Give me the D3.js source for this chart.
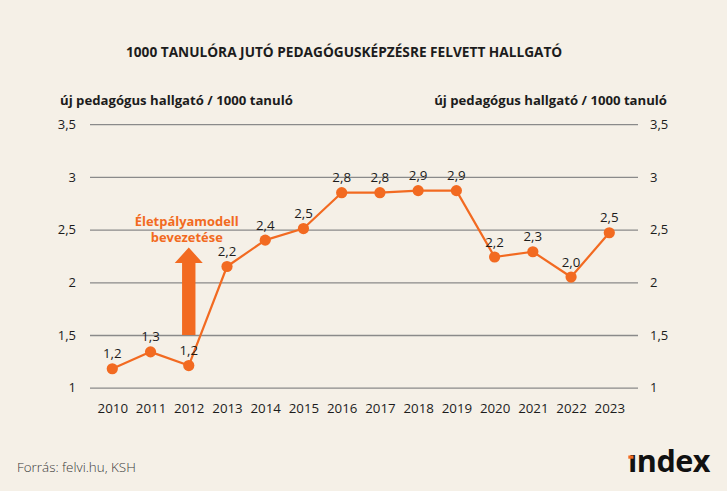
<!DOCTYPE html>
<html>
<head>
<meta charset="utf-8">
<script src="https://cdn.jsdelivr.net/npm/d3@7/dist/d3.min.js"></script>
<style>
  html, body { margin: 0; padding: 0; background: #f5f0e7; }
  svg { display: block; }
  text { font-family: "Open Sans", "Noto Sans", sans-serif; }
</style>
</head>
<body>
<svg id="chart" width="727" height="491"></svg>
<script>
// ---- data ----
const years = ["2010","2011","2012","2013","2014","2015","2016","2017","2018","2019","2020","2021","2022","2023"];
const values = [1.18, 1.34, 1.21, 2.15, 2.40, 2.51, 2.85, 2.85, 2.87, 2.87, 2.24, 2.29, 2.05, 2.47];
const valueLabels = ["1,2","1,3","1,2","2,2","2,4","2,5","2,8","2,8","2,9","2,9","2,2","2,3","2,0","2,5"];
const yTicks = [1, 1.5, 2, 2.5, 3, 3.5];
const yTickLabels = ["1","1,5","2","2,5","3","3,5"];
const title = "1000 TANULÓRA JUTÓ PEDAGÓGUSKÉPZÉSRE FELVETT HALLGATÓ";
const axisTitle = "új pedagógus hallgató / 1000 tanuló";
const annotation = ["Életpályamodell", "bevezetése"];
const annotationYear = "2012";
const annotationBase = 1.5;
const source = "Forrás: felvi.hu, KSH";

const orange = "#f26a21";
const ink = "#1c1c1c";

const svg = d3.select("#chart");
svg.append("rect").attr("width", 727).attr("height", 491).attr("fill", "#f5f0e7");

const gridLeft = 90, gridRight = 638;
const x = d3.scalePoint().domain(years).range([112.3, 609.3]);
const y = d3.scaleLinear().domain([1, 3.5]).range([387.7, 124.2]);

function fitWidth(sel, target) {
  const w = sel.node().getComputedTextLength();
  const fs = parseFloat(sel.attr("font-size"));
  sel.attr("font-size", fs * target / w);
}

// title
const t = svg.append("text").attr("x", 126).attr("y", 56.5)
  .attr("font-size", 13).attr("font-weight", 700).attr("fill", ink)
  .text(title);
fitWidth(t, 437);

// axis titles
const at1 = svg.append("text").attr("x", 60).attr("y", 105)
  .attr("font-size", 13.5).attr("font-weight", 700).attr("fill", ink).text(axisTitle);
fitWidth(at1, 233);
const at2 = svg.append("text").attr("x", 667).attr("y", 105).attr("text-anchor", "end")
  .attr("font-size", 13.5).attr("font-weight", 700).attr("fill", ink).text(axisTitle);
fitWidth(at2, 233);

// left axis with gridlines
const fmt = d => yTickLabels[yTicks.indexOf(d)];
const gl = svg.append("g").attr("transform", `translate(${gridLeft},0)`)
  .call(d3.axisLeft(y).tickValues(yTicks).tickFormat(fmt)
    .tickSize(-(gridRight - gridLeft)).tickPadding(14));
gl.select(".domain").remove();
gl.selectAll(".tick line").attr("stroke", "#8a8a8a").attr("stroke-width", 1.3);
gl.selectAll(".tick text").attr("font-size", 13).attr("fill", ink)
  .attr("font-family", "'Open Sans', sans-serif");

const gr = svg.append("g").attr("transform", `translate(${gridRight},0)`)
  .call(d3.axisRight(y).tickValues(yTicks).tickFormat(fmt).tickSize(0).tickPadding(12));
gr.select(".domain").remove();
gr.selectAll(".tick text").attr("font-size", 13).attr("fill", ink)
  .attr("font-family", "'Open Sans', sans-serif");

// x axis
const gx = svg.append("g").attr("transform", `translate(0,${y(1)})`)
  .call(d3.axisBottom(x).tickSize(0).tickPadding(15.5));
gx.select(".domain").remove();
gx.selectAll(".tick text").attr("font-size", 13.3).attr("font-weight", 500).attr("fill", ink)
  .attr("font-family", "'Open Sans', sans-serif");

// annotation arrow
const ax = x(annotationYear);
const baseY = y(annotationBase);
const headTop = 247.5, headBase = 263;
const arrow = d3.path();
arrow.moveTo(ax - 6.7, baseY);
arrow.lineTo(ax - 6.7, headBase);
arrow.lineTo(ax - 14, headBase);
arrow.lineTo(ax, headTop);
arrow.lineTo(ax + 14, headBase);
arrow.lineTo(ax + 6.7, headBase);
arrow.lineTo(ax + 6.7, baseY);
arrow.closePath();
svg.append("path").attr("d", arrow.toString()).attr("fill", orange);

const an1 = svg.append("text").attr("x", ax - 2).attr("y", 225.5).attr("text-anchor", "middle")
  .attr("font-family", "'DejaVu Sans', sans-serif")
  .attr("font-size", 11.5).attr("font-weight", 700).attr("fill", orange).text(annotation[0]);
fitWidth(an1, 104);
svg.append("text").attr("x", ax - 2).attr("y", 241.5).attr("text-anchor", "middle")
  .attr("font-family", "'DejaVu Sans', sans-serif")
  .attr("font-size", an1.attr("font-size")).attr("font-weight", 700).attr("fill", orange).text(annotation[1]);

// line + points
const line = d3.line().x((d, i) => x(years[i])).y(d => y(d));
svg.append("path").datum(values).attr("d", line)
  .attr("fill", "none").attr("stroke", orange).attr("stroke-width", 2.2).attr("stroke-linejoin", "round");

svg.selectAll("circle.pt").data(values).join("circle").attr("class", "pt")
  .attr("cx", (d, i) => x(years[i])).attr("cy", d => y(d)).attr("r", 5.6).attr("fill", orange);

svg.selectAll("text.vl").data(values).join("text").attr("class", "vl")
  .attr("x", (d, i) => x(years[i])).attr("y", d => y(d) - 10.5)
  .attr("text-anchor", "middle").attr("font-size", 13.3).attr("fill", ink)
  .text((d, i) => valueLabels[i]);

// source
const src = svg.append("text").attr("x", 17).attr("y", 471.5)
  .attr("font-size", 12.5).attr("font-weight", 300).attr("fill", "#3a3a3a").text(source);
fitWidth(src, 119);

// logo
const logo = svg.append("text").attr("x", 628).attr("y", 472)
  .attr("font-family", "'DejaVu Sans', sans-serif")
  .attr("font-size", 22).attr("font-weight", 700).attr("fill", "#111")
  .attr("letter-spacing", -0.5).text("\u0131ndex");
fitWidth(logo, 81);
svg.append("rect").attr("x", 628.3).attr("y", 455.5).attr("width", 5.2).attr("height", 3.2).attr("fill", orange);
</script>
</body>
</html>
